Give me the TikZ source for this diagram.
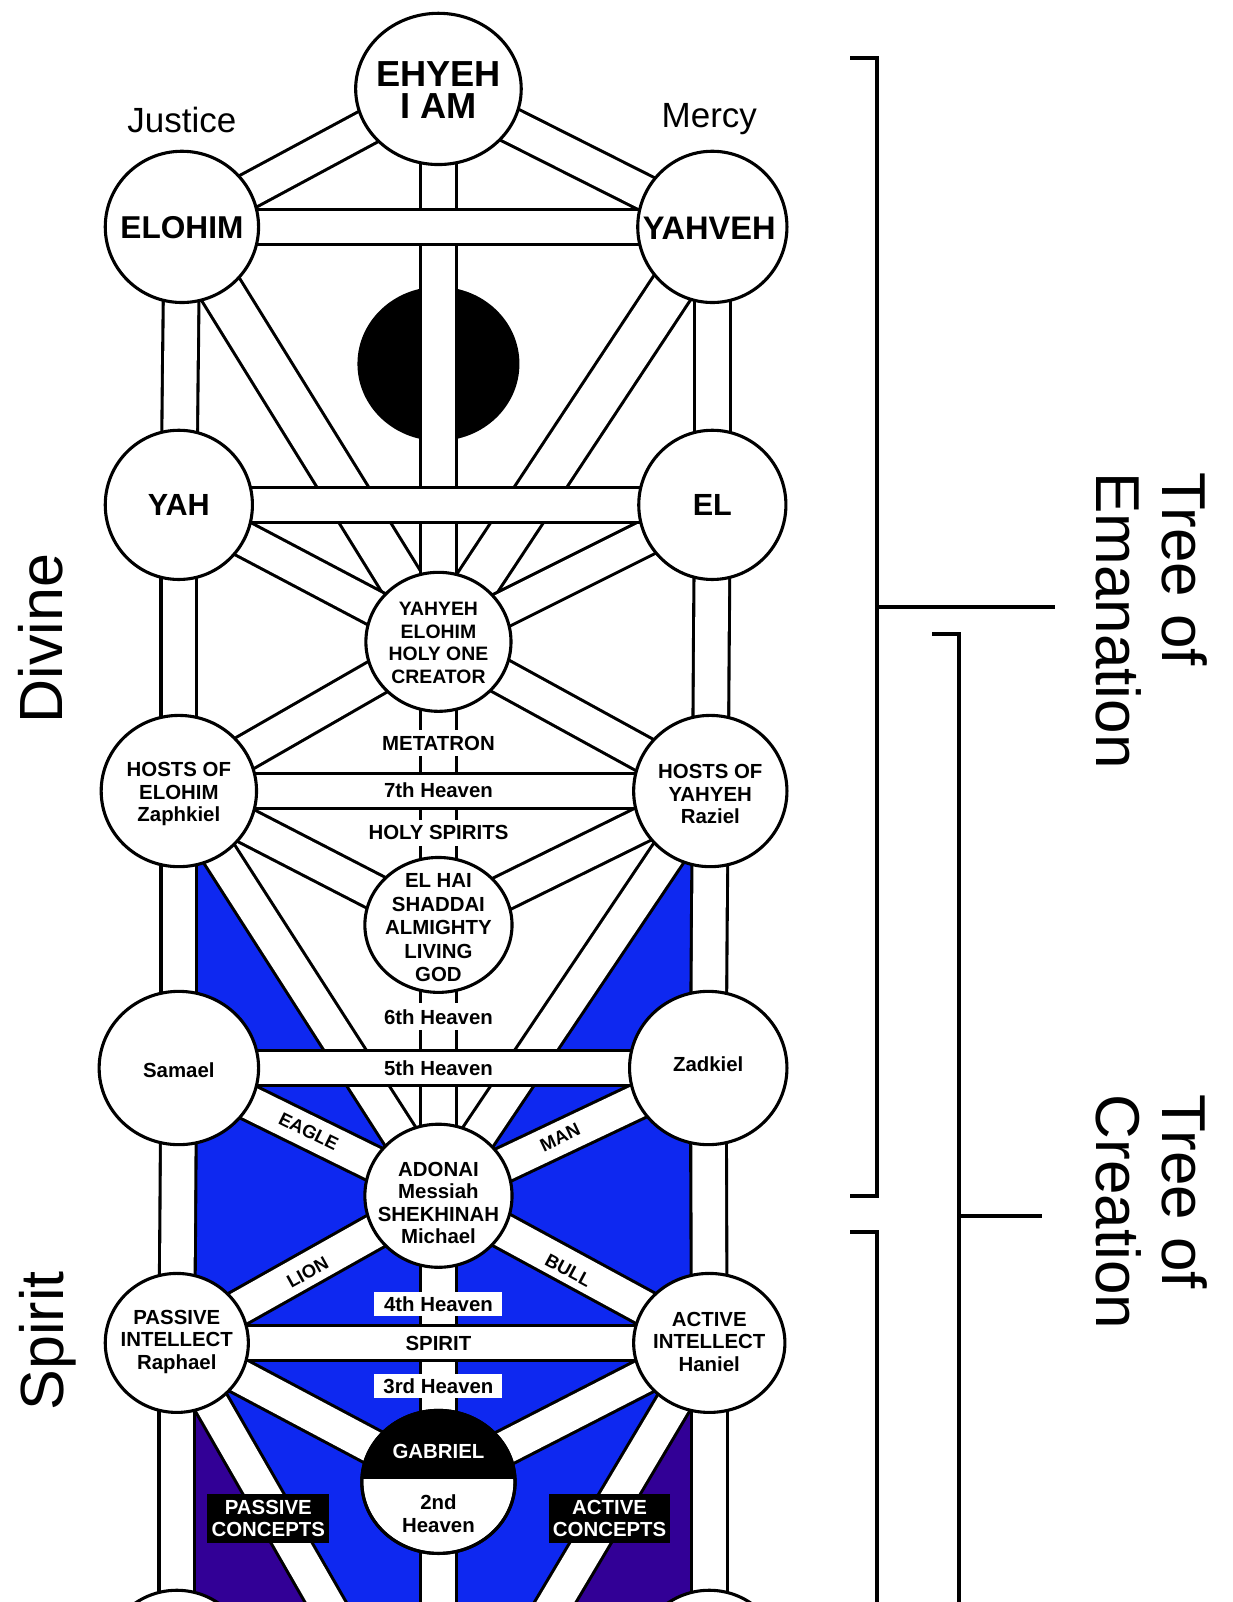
\documentclass[tikz,border=0pt]{standalone}
\usepackage{fontspec}
\setmainfont{Liberation Sans}
\usetikzlibrary{shapes.geometric}
\definecolor{tblue}{RGB}{14,40,240}
\definecolor{tpurple}{RGB}{50,0,150}
\newcommand\tband[2]{\draw[bandb] (#1) -- (#2); \draw[bandw] (#1) -- (#2);}
\newcommand\wband[2]{\draw[wbandb] (#1) -- (#2); \draw[wbandw] (#1) -- (#2);}
\newcommand\hband[2]{\draw[hbandb] (#1) -- (#2); \draw[hbandw] (#1) -- (#2);}
\begin{document}
\begin{tikzpicture}[x=0.511pt,y=-0.511pt,
 sef/.style 2 args={ellipse, draw=black, line width=1.55pt, fill=white, inner sep=0pt, minimum width=1.022*#1pt, minimum height=1.022*#2pt},
 tsmall/.style={font=\bfseries\fontsize{10.2}{11.25}\selectfont, align=center, inner sep=0pt},
 tbig/.style={font=\bfseries\fontsize{15.8}{16.3}\selectfont, align=center, inner sep=0pt},
 bandb/.style={line width=19.4pt, draw=black},
 bandw/.style={line width=16.3pt, draw=white},
 wbandb/.style={line width=23.5pt, draw=black},
 wbandw/.style={line width=20.4pt, draw=white},
 hbandb/.style={line width=18.9pt, draw=black},
 hbandw/.style={line width=15.8pt, draw=white},
 onpillar/.style={tsmall, fill=white, inner xsep=1.5pt, inner ysep=3pt},
 wbox/.style={tsmall, fill=white, minimum width=64pt, minimum height=11.8pt},
 cbox/.style={tsmall, text=white, fill=black, minimum width=60.8pt, minimum height=24.5pt},
 ttag/.style={font=\bfseries\fontsize{9.2}{9.2}\selectfont, inner sep=0pt},
 tside/.style={font=\fontsize{30.5}{31}\selectfont, inner sep=0pt, rotate=90},
 ttree/.style={font=\fontsize{31}{33.2}\selectfont, align=left, inner sep=0pt, rotate=-90},
 tpill/.style={font=\fontsize{17.5}{18}\selectfont, inner sep=0pt},
 tbrk/.style={line width=2pt}]
\useasboundingbox (0,0) rectangle (1205.5,1567.5);
\fill[white] (0,0) rectangle (1205.5,1567.5);
\clip (0,0) rectangle (1205.5,1567.5);

% centres
\coordinate (ck) at (429,87);
\coordinate (cbin) at (178,222);
\coordinate (cchk) at (697,222);
\coordinate (cdaath) at (429,356);
\coordinate (cgeb) at (175,494);
\coordinate (cches) at (697,494);
\coordinate (ctiph) at (429,628);
\coordinate (choE) at (175,774);
\coordinate (choY) at (695,774);
\coordinate (celhai) at (429,905);
\coordinate (csam) at (175,1045);
\coordinate (czad) at (693,1045);
\coordinate (cado) at (429,1170);
\coordinate (cpas) at (173,1314);
\coordinate (cact) at (694,1314);
\coordinate (cgab) at (429,1450);
\coordinate (cbl) at (173,1628);
\coordinate (cbr) at (694,1628);
\coordinate (cbc) at (429,1760);

% coloured fields
\fill[tblue] (175,774) -- (348.6,1045) -- (175,1045) -- cycle;
\fill[tblue] (695,774) -- (513.2,1045) -- (693,1045) -- cycle;
\fill[tblue] (175,1045) -- (348.6,1045) -- (429,1170) -- (513.2,1045) -- (694,1045) -- (694,1602) -- (173,1602) -- cycle;
\fill[tpurple] (173,1314) -- (338.7,1602) -- (173,1602) -- cycle;
\fill[tpurple] (694,1314) -- (522.5,1602) -- (694,1602) -- cycle;

% diagonal paths
\wband{cbin}{ctiph}
\wband{cchk}{ctiph}
\foreach \a/\b in {ck/cbin, ck/cchk, cgeb/ctiph, cches/ctiph,
  ctiph/choE, ctiph/choY, choE/celhai, choY/celhai, choE/cado, choY/cado,
  csam/cado, czad/cado, cado/cpas, cado/cact, cpas/cgab, cact/cgab, cpas/cbc, cact/cbc}
  {\tband{\a}{\b}}

% Daath
\node[ellipse, fill=black, inner sep=0pt, minimum width=81pt, minimum height=77pt] (daath) at (cdaath) {};

% pillars
\foreach \a/\b in {cbin/cgeb, cgeb/choE, choE/csam, csam/cpas, cpas/cbl,
  cchk/cches, cches/choY, choY/czad, czad/cact, cact/cbr,
  ck/ctiph, ctiph/celhai, celhai/cado, cado/cgab, cgab/cbc}
  {\tband{\a}{\b}}

% horizontal bars
\foreach \a/\b in {cbin/cchk, cgeb/cches, choE/choY, csam/czad, cpas/cact}
  {\hband{\a}{\b}}

% spheres
\node[sef={81}{74}] (keter) at (ck) {};
\node[sef={75}{74}] (binah) at (cbin) {};
\node[sef={73}{74}] (chokmah) at (cchk) {};
\node[sef={72}{73}] (geburah) at (cgeb) {};
\node[sef={72}{73}] (chesed) at (cches) {};
\node[sef={71}{68}] (tiph) at (ctiph) {};
\node[sef={76}{74}] (hostsE) at (choE) {};
\node[sef={75}{74}] (hostsY) at (choY) {};
\node[sef={72}{66}] (elhai) at (celhai) {};
\node[sef={78}{75}] (samael) at (csam) {};
\node[sef={77}{75}] (zadkiel) at (czad) {};
\node[sef={72}{70}] (adonai) at (cado) {};
\node[sef={70}{68}] (passive) at (cpas) {};
\node[sef={74}{68}] (active) at (cact) {};
\node[sef={75}{70}, path picture={\fill[black] (path picture bounding box.north west) rectangle ([yshift=1.5pt]path picture bounding box.east);}] (gabriel) at (cgab) {};
\node[ellipse, draw=black, line width=1.55pt, inner sep=0pt, minimum width=76.6pt, minimum height=71.5pt] (gabriel-o) at (cgab) {};
\node[sef={72}{72}] (botL) at (cbl) {};
\node[sef={72}{72}] (botR) at (cbr) {};

% sphere texts
\node[tbig, font=\bfseries\fontsize{18.1}{16.35}\selectfont] (t-keter) at (429,88) {EHYEH\\I AM};
\node[tbig] (t-binah) at (178,223) {ELOHIM};
\node[tbig, font=\bfseries\fontsize{16.3}{16.3}\selectfont] (t-chokmah) at (694,223) {YAHVEH};
\node[tbig, font=\bfseries\fontsize{15.3}{16}\selectfont] (t-geburah) at (175,494) {YAH};
\node[tbig, font=\bfseries\fontsize{15.3}{16}\selectfont] (t-chesed) at (697,494) {EL};
\node[tsmall, font=\bfseries\fontsize{9.7}{11.25}\selectfont] (t-tiph) at (429,629) {YAHYEH\\ELOHIM\\HOLY ONE\\CREATOR};
\node[tsmall] (t-hostsE) at (175,777) {HOSTS OF\\ELOHIM\\Zaphkiel};
\node[tsmall] (t-hostsY) at (695,777) {HOSTS OF\\YAHYEH\\Raziel};
\node[tsmall, font=\bfseries\fontsize{10.2}{11.75}\selectfont] (t-elhai) at (429,908) {EL HAI\\SHADDAI\\ALMIGHTY\\LIVING\\GOD};
\node[tsmall] (t-samael) at (175,1047) {Samael};
\node[tsmall] (t-zadkiel) at (693,1041) {Zadkiel};
\node[tsmall] (t-adonai) at (429,1177) {ADONAI\\Messiah\\SHEKHINAH\\Michael};
\node[tsmall] (t-passive) at (173,1313) {PASSIVE\\INTELLECT\\Raphael};
\node[tsmall] (t-active) at (694,1313) {ACTIVE\\INTELLECT\\Haniel};
\node[tsmall, text=white] (t-gabriel) at (429,1420) {GABRIEL};
\node[tsmall] (t-second) at (429,1481) {2nd\\Heaven};

% path texts
\node[onpillar] (metatron) at (429,727) {METATRON};
\node[tsmall] (h7) at (429,773) {7th Heaven};
\node[onpillar] (holysp) at (429,815) {HOLY SPIRITS};
\node[onpillar] (h6) at (429,995) {6th Heaven};
\node[tsmall] (h5) at (429,1045) {5th Heaven};
\node[wbox] (h4) at (429,1276) {4th Heaven};
\node[tsmall] (spirit) at (429,1315) {SPIRIT};
\node[wbox] (h3) at (429,1356) {3rd Heaven};
\node[ttag, rotate=-26.2] (eagle) at (302,1107) {EAGLE};
\node[ttag, rotate=25.3] (man) at (548,1113) {MAN};
\node[ttag, rotate=29] (lion) at (301,1245) {LION};
\node[ttag, rotate=-28.2] (bull) at (556,1243) {BULL};
\node[cbox] (pconc) at (262.5,1486) {PASSIVE\\CONCEPTS};
\node[cbox] (aconc) at (596.5,1486) {ACTIVE\\CONCEPTS};

% outer labels
\node[tpill] (justice) at (178,117) {Justice};
\node[tpill] (mercy) at (694,117) {Mercy};
\node[tside] (divine) at (40,625) {Divine};
\node[tside] (spiritw) at (47,1312) {Spirit};
\node[ttree] (emanation) at (1127,607) {Tree of\\Emanation};
\node[ttree] (creation) at (1127,1186) {Tree of\\Creation};

% brackets
\draw[tbrk] (832,57) -- (858,57) -- (858,1170) -- (832,1170);
\draw[tbrk] (858,594) -- (1032,594);
\draw[tbrk] (912,620) -- (938,620) -- (938,1610);
\draw[tbrk] (938,1190) -- (1020,1190);
\draw[tbrk] (832,1205) -- (858,1205) -- (858,1610);
\end{tikzpicture}
\end{document}
